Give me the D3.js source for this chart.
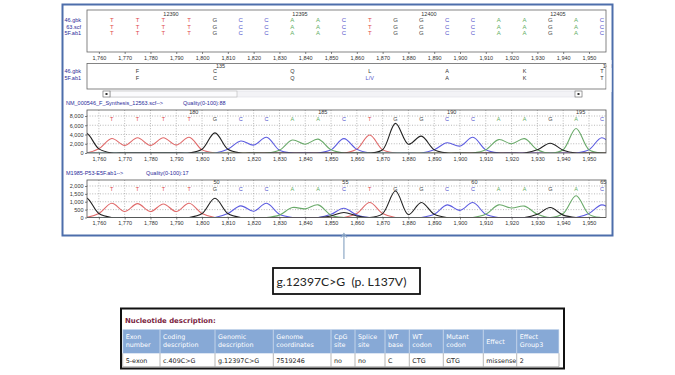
<!DOCTYPE html>
<html><head><meta charset="utf-8">
<script src="https://cdn.jsdelivr.net/npm/d3@7"></script>
<style>
body{margin:0;background:#fff;}
svg{display:block;font-family:"Liberation Sans",Arial,sans-serif;}
</style></head><body>
<svg id="c" width="675" height="375"></svg>
<script>
// ---------------- DATA ----------------
const basePositions = [1765,1775,1785,1795,1805,1815,1825,1835,1845,1855,1865,1875,1885,1895,1905,1915,1925,1935,1945,1955];
const refBases = ["T","T","T","T","G","C","C","A","A","C","T","G","G","C","C","A","A","G","A","C"];
const seqRowLabels = ["46.gbk","63.scf","5F.ab1"];
const seqNumbers = ["12390","12395","12400","12405"];
const seqNumberPos = [1785,1835,1885,1935];
const aaRowLabels = ["46.gbk","5F.ab1"];
const aaPos = [1775,1805,1835,1865,1895,1925,1955];
const aaRef = ["F","C","Q","L","A","K","T"];
const aaSample = ["F","C","Q","L/V","A","K","T"];
const codonNumbers = ["135","140"];
const codonNumberPos = [1805,1955];
const xTicks = [1760,1770,1780,1790,1800,1810,1820,1830,1840,1850,1860,1870,1880,1890,1900,1910,1920,1930,1940,1950];

const trace1Title = "NM_000546_F_Synthesis_12563.scf-->";
const trace1Quality = "Quality(0-100):88";
const trace1Numbers = ["180","185","190","195"];
const trace1NumberPos = [1795,1845,1895,1945];
const yTicks1 = [0,2000,4000,6000,8000];

const trace2Title = "M1985-P53-E5F.ab1-->";
const trace2Quality = "Quality(0-100):17";
const trace2Numbers = ["50","55","60","65"];
const trace2NumberPos = [1805,1855,1905,1955];
const yTicks2 = [0,500,1000,1500,2000];

// trace sample positions
const tracePos = [1750,1755,1760,1765,1770,1775,1780,1785,1790,1795,1800,1805,1810,1815,1820,1825,1830,1835,1840,1845,1850,1855,1860,1865,1870,1875,1880,1885,1890,1895,1900,1905,1910,1915,1920,1925,1930,1935,1940,1945,1950,1955,1960];
// trace 1 (reference scf)
const t1G = [1500,4300,900,0,0,0,0,0,0,0, 800,4350,800,0,0,0,0,0,0,0, 0,0,0,0,700,6400,1900,3650,700,0, 0,0,0,0,0,0,700,2100,600,0, 0,0,0];
const t1T = [0,0,900,3150,1650,3300,1650,3300,1700,3400, 700,0,0,0,0,0,0,0,0,0, 0,0,800,3900,700,0,0,0,0,0, 0,0,0,0,0,0,0,0,0,0, 0,0,0];
const t1C = [0,0,0,0,0,0,0,0,0,0, 0,0,800,2600,1700,3400,600,0,0,0, 700,3100,800,0,0,0,0,0,700,2200, 1500,3400,700,0,0,0,0,0,0,0, 700,3300,800];
const t1A = [0,0,0,0,0,0,0,0,0,0, 0,0,0,0,0,0,600,2800,1900,3000, 700,0,0,0,0,0,0,0,0,0, 0,0,700,2900,2000,3100,700,0,700,5300, 700,0,0];
// trace 2 (sample ab1)
const t2G = [500,1250,250,0,0,0,0,0,0,0, 250,1220,250,0,0,0,0,0,0,0, 100,320,100,0,250,1680,180,950,200,0, 0,0,0,0,0,0,200,630,150,0, 0,0,0];
const t2T = [0,0,250,900,380,880,380,860,380,900, 250,0,0,0,0,0,0,0,0,0, 0,0,250,950,250,0,0,0,0,0, 0,0,0,0,0,0,0,0,0,0, 0,0,0];
const t2C = [0,0,0,0,0,0,0,0,0,0, 0,0,250,740,400,900,200,0,0,0, 200,590,150,0,0,0,0,0,200,800, 450,950,200,0,0,0,0,0,0,0, 250,800,300];
const t2A = [0,0,0,0,0,0,0,0,0,0, 0,0,0,0,0,0,150,630,550,800, 150,0,0,0,0,0,0,0,0,0, 0,0,200,800,600,720,200,0,250,1380, 200,0,0];

const mutationPos = 1855;
const mutationLabel = "g.12397C>G  (p. L137V)";

const tableTitle = "Nucleotide description:";
const tableHeaders = [["Exon","number"],["Coding","description"],["Genomic","description"],["Genome","coordinates"],["CpG","site"],["Splice","site"],["WT","base"],["WT","codon"],["Mutant","codon"],["Effect"],["Effect","Group3"]];
const tableRow = ["5-exon","c.409C>G","g.12397C>G","7519246","no","no","C","CTG","GTG","missense","2"];

// ---------------- LAYOUT / STYLE ----------------
const colEdges = [122.7,160,215,273.3,331,355,385,409.3,443.3,483.3,516.7,559];
const baseColor = {T:"#e04a4a", G:"#4a4a4a", C:"#5252cc", A:"#5fae5f"};
const traceColor = {T:"#e06a6a", G:"#222", C:"#5c5ce0", A:"#6aaa6a"};
const labelBlue = "#2b2b9a";
const fs = 5.5;
const tableFont = "Verdana, 'DejaVu Sans', sans-serif";

const svg = d3.select("#c");
const x = d3.scaleLinear().domain([1755.4,1956.6]).range([87,606]);
const L = 87, R = 606;

// window frame
svg.append("rect").attr("x",62.5).attr("y",4.5).attr("width",550).attr("height",231)
  .attr("fill","#fff").attr("stroke","#4d6eab").attr("stroke-width",2);

function xAxis(yPos){
  const g = svg.append("g").attr("transform",`translate(0,${yPos})`)
    .call(d3.axisBottom(x).tickValues(xTicks).tickFormat(d3.format(",")).tickSize(2).tickPadding(2));
  g.select(".domain").remove();
  g.selectAll("line").attr("stroke","#333").attr("stroke-width",0.6);
  g.selectAll("text").attr("font-size",fs).attr("fill","#333").attr("font-family","Liberation Sans, Arial");
}

// ---- top sequence panel ----
svg.append("rect").attr("x",L).attr("y",10).attr("width",R-L).attr("height",42)
  .attr("fill","#fff").attr("stroke","#666").attr("stroke-width",0.8);
seqRowLabels.forEach((t,i)=>svg.append("text").attr("x",81).attr("y",22+i*6.5)
  .attr("text-anchor","end").attr("font-size",fs).attr("fill",labelBlue).text(t));
seqNumbers.forEach((t,i)=>svg.append("text").attr("x",x(seqNumberPos[i])).attr("y",16)
  .attr("font-size",fs).attr("fill","#333").text(t));
[0,1,2].forEach(r=>{
  svg.append("g").selectAll("text").data(refBases).join("text")
    .attr("x",(d,i)=>x(basePositions[i])).attr("y",22+r*6.5)
    .attr("text-anchor","middle").attr("font-size",fs+0.5).attr("fill",d=>baseColor[d]).text(d=>d);
});
xAxis(52);

// ---- protein panel ----
svg.append("rect").attr("x",L).attr("y",63.5).attr("width",R-L).attr("height",25.5)
  .attr("fill","#fff").attr("stroke","#666").attr("stroke-width",0.8);
aaRowLabels.forEach((t,i)=>svg.append("text").attr("x",81).attr("y",73+i*7)
  .attr("text-anchor","end").attr("font-size",fs).attr("fill",labelBlue).text(t));
codonNumbers.forEach((t,i)=>svg.append("text").attr("x",x(codonNumberPos[i])+1).attr("y",67.5)
  .attr("font-size",fs).attr("fill","#333").text(t));
svg.append("g").selectAll("text").data(aaRef).join("text")
  .attr("x",(d,i)=>x(aaPos[i])).attr("y",73).attr("text-anchor","middle")
  .attr("font-size",fs).attr("fill","#333").text(d=>d);
svg.append("g").selectAll("text").data(aaSample).join("text")
  .attr("x",(d,i)=>x(aaPos[i])).attr("y",80).attr("text-anchor","middle")
  .attr("font-size",fs).attr("fill",d=>d.includes("/")?"#5252cc":"#333").text(d=>d);
svg.append("rect").attr("x",R+0.5).attr("y",60).attr("width",5).attr("height",32).attr("fill","#fff");

// scrollbar
svg.append("rect").attr("x",103).attr("y",91).attr("width",479).attr("height",6)
  .attr("fill","#f3f3f6").attr("stroke","#d8d8e0").attr("stroke-width",0.5);
svg.append("rect").attr("x",110).attr("y",91).attr("width",127).attr("height",6)
  .attr("fill","#fbfbfd").attr("stroke","#aaa").attr("stroke-width",0.5);
[103,575].forEach(bx=>{
  svg.append("rect").attr("x",bx).attr("y",91).attr("width",7).attr("height",6)
    .attr("fill","#fff").attr("stroke","#666").attr("stroke-width",0.6);
  svg.append("rect").attr("x",bx+2.5).attr("y",93).attr("width",2).attr("height",2).attr("fill","#333");
});

// ---- trace panels ----
function tracePanel(opt){
  const {top,bottom,ymax,yTicks,title,quality,qx,nums,numPos,numAnchor,numDx,series,id} = opt;
  const y = d3.scaleLinear().domain([0,ymax]).range([bottom,top]);
  svg.append("text").attr("x",66).attr("y",top-5).attr("font-size",fs).attr("fill",labelBlue).text(title);
  svg.append("text").attr("x",qx).attr("y",top-5).attr("font-size",fs).attr("fill",labelBlue).text(quality);
  svg.append("rect").attr("x",L).attr("y",top).attr("width",R-L).attr("height",bottom-top).attr("fill","#fff");
  svg.append("clipPath").attr("id",id).append("rect")
    .attr("x",L).attr("y",top).attr("width",R-L).attr("height",bottom-top);
  const grid = svg.append("g").attr("stroke","#8a8a8a").attr("stroke-width",0.6).attr("stroke-dasharray","1,1.6");
  grid.selectAll("line.v").data(xTicks).join("line").attr("class","v")
    .attr("x1",d=>x(d)).attr("x2",d=>x(d)).attr("y1",top).attr("y2",bottom);
  grid.selectAll("line.h").data(yTicks.filter(d=>d>0)).join("line").attr("class","h")
    .attr("x1",L).attr("x2",R).attr("y1",d=>y(d)).attr("y2",d=>y(d));
  svg.append("g").selectAll("text").data(nums).join("text")
    .attr("x",(d,i)=>x(numPos[i])+numDx).attr("y",top+3.5).attr("text-anchor",numAnchor)
    .attr("font-size",fs).attr("fill","#333").text(d=>d);
  svg.append("g").selectAll("text").data(refBases).join("text")
    .attr("x",(d,i)=>x(basePositions[i])).attr("y",top+10.5).attr("text-anchor","middle")
    .attr("font-size",fs).attr("fill",d=>baseColor[d]).text(d=>d);
  const line = d3.line().x((d,i)=>x(tracePos[i])).y(d=>y(d)).curve(d3.curveCatmullRom.alpha(0.5));
  const tg = svg.append("g").attr("clip-path",`url(#${id})`);
  series.forEach(([vals,b])=>tg.append("path").attr("d",line(vals)).attr("fill","none")
    .attr("stroke",traceColor[b]).attr("stroke-width",1.1));
  svg.append("rect").attr("x",L).attr("y",top).attr("width",R-L).attr("height",bottom-top)
    .attr("fill","none").attr("stroke","#555").attr("stroke-width",0.8);
  const ya = svg.append("g").attr("transform",`translate(${L},0)`)
    .call(d3.axisLeft(y).tickValues(yTicks).tickFormat(d3.format(",")).tickSize(2).tickPadding(1.5));
  ya.select(".domain").remove();
  ya.selectAll("line").attr("stroke","#333").attr("stroke-width",0.6);
  ya.selectAll("text").attr("font-size",fs).attr("fill","#333").attr("font-family","Liberation Sans, Arial");
  xAxis(bottom);
}
tracePanel({top:110,bottom:153,ymax:9300,yTicks:yTicks1,title:trace1Title,quality:trace1Quality,qx:183,
  nums:trace1Numbers,numPos:trace1NumberPos,numAnchor:"start",numDx:0,
  series:[[t1T,"T"],[t1C,"C"],[t1A,"A"],[t1G,"G"]],id:"clip1"});
tracePanel({top:180,bottom:217.5,ymax:2380,yTicks:yTicks2,title:trace2Title,quality:trace2Quality,qx:146,
  nums:trace2Numbers,numPos:trace2NumberPos,numAnchor:"middle",numDx:1.5,
  series:[[t2T,"T"],[t2C,"C"],[t2A,"A"],[t2G,"G"]],id:"clip2"});

// ---- arrow ----
const ax = x(mutationPos);
svg.append("line").attr("x1",ax).attr("x2",ax).attr("y1",234).attr("y2",259)
  .attr("stroke","#8ea8c6").attr("stroke-width",1.2);
svg.append("path").attr("d",`M${ax-3},${237.5} L${ax},${233.5} L${ax+3},${237.5}`)
  .attr("fill","none").attr("stroke","#8ea8c6").attr("stroke-width",1.2);

// ---- mutation box ----
svg.append("rect").attr("x",273).attr("y",268).attr("width",147).attr("height",26)
  .attr("fill","#fff").attr("stroke","#111").attr("stroke-width",1.8);
svg.append("text").attr("x",276.5).attr("y",285.5).attr("font-family","Lato, 'Open Sans', sans-serif")
  .attr("font-size",12.2).attr("fill","#222").attr("xml:space","preserve").style("white-space","pre")
  .text(mutationLabel);

// ---- table ----
svg.append("rect").attr("x",121).attr("y",308.5).attr("width",443).attr("height",60)
  .attr("fill","#fff").attr("stroke","#111").attr("stroke-width",2);
svg.append("text").attr("x",125).attr("y",323).attr("font-family",tableFont)
  .attr("font-size",6.9).attr("font-weight","bold").attr("fill","#7a2340").text(tableTitle);
const hTop = 329.5, hBot = 353.3, rBot = 366.7;
svg.append("rect").attr("x",colEdges[0]).attr("y",hTop).attr("width",colEdges[11]-colEdges[0]).attr("height",hBot-hTop)
  .attr("fill","#87a9d6");
tableHeaders.forEach((lines,i)=>{
  const cx = colEdges[i]+3;
  lines.forEach((t,j)=>{
    const yy = lines.length===1 ? (hTop+hBot)/2+2.5 : hTop+9+j*8.5;
    svg.append("text").attr("x",cx).attr("y",yy).attr("font-family",tableFont)
      .attr("font-size",6.4).attr("fill","#fff").text(t);
  });
  svg.append("text").attr("x",cx).attr("y",hBot+9.3).attr("font-family",tableFont)
    .attr("font-size",6.4).attr("fill","#222").text(tableRow[i]);
});
colEdges.forEach(cx=>{
  svg.append("line").attr("x1",cx).attr("x2",cx).attr("y1",hTop).attr("y2",hBot).attr("stroke","#dbe6f3").attr("stroke-width",0.7);
  svg.append("line").attr("x1",cx).attr("x2",cx).attr("y1",hBot).attr("y2",rBot).attr("stroke","#9a9a9a").attr("stroke-width",0.7);
});
svg.append("line").attr("x1",colEdges[0]).attr("x2",colEdges[11]).attr("y1",rBot).attr("y2",rBot).attr("stroke","#9a9a9a").attr("stroke-width",0.7);
</script>
</body></html>
